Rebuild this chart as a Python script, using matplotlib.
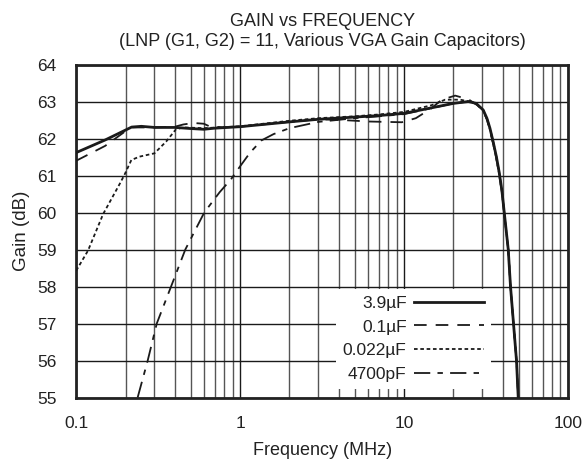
import matplotlib
matplotlib.use("Agg")
import matplotlib.pyplot as plt
from matplotlib.ticker import FixedLocator, NullFormatter

plt.rcParams['font.family'] = ['Liberation Sans', 'DejaVu Sans']

title = "GAIN vs FREQUENCY\n(LNP (G1, G2) = 11, Various VGA Gain Capacitors)"
xlabel = "Frequency (MHz)"
ylabel = "Gain (dB)"
xticks = [0.1, 1, 10, 100]
xticklabels = ["0.1", "1", "10", "100"]
yticks = [55, 56, 57, 58, 59, 60, 61, 62, 63, 64]

labels = ["3.9\u00b5F", "0.1\u00b5F", "0.022\u00b5F", "4700pF"]

f_39u = [0.1, 0.15, 0.218, 0.25, 0.3, 0.4, 0.5, 0.6, 0.7, 1.0, 2.0, 3.0, 5.0, 7.0, 10.0,
         14.7, 20.0, 24.7, 27.5, 30.4, 32.0, 33.4, 35.0, 36.6, 38.0, 39.5, 43.2, 44.6, 48.5, 49.7]
g_39u = [61.62, 61.96, 62.31, 62.33, 62.3, 62.3, 62.27, 62.25, 62.28, 62.32, 62.45, 62.52, 62.58, 62.62, 62.68,
         62.83, 62.95, 63.0, 62.95, 62.77, 62.55, 62.28, 61.9, 61.5, 61.1, 60.6, 59.0, 58.0, 56.0, 55.0]

f_01u = [0.1, 0.15, 0.2, 0.22, 0.3, 0.4, 0.45, 0.52, 0.6, 0.65, 0.8, 1.0, 2.0, 3.0, 4.2, 6.1, 9.7,
         11.8, 14.5, 17.0, 20.5, 24.7, 28.0, 30.4, 32.0, 33.4, 35.0, 36.6, 38.0, 39.5, 43.2, 44.6, 48.5, 49.7]
g_01u = [61.4, 61.8, 62.2, 62.3, 62.3, 62.32, 62.38, 62.42, 62.4, 62.33, 62.3, 62.32, 62.45, 62.52, 62.5, 62.46, 62.44,
         62.55, 62.8, 63.05, 63.16, 63.06, 62.9, 62.75, 62.52, 62.25, 61.85, 61.45, 61.05, 60.55, 59.0, 58.0, 56.0, 55.0]

f_022u = [0.1, 0.118, 0.146, 0.184, 0.197, 0.217, 0.243, 0.3, 0.354, 0.406, 0.45, 0.6, 1.0, 2.0, 3.0, 5.0,
          7.0, 10.0, 14.7, 17.8, 22.0, 25.0, 28.0, 30.4, 32.0, 33.4, 35.0, 36.6, 38.0, 39.5, 43.2, 44.6, 48.5, 49.7]
g_022u = [58.43, 58.97, 59.96, 60.77, 61.02, 61.42, 61.51, 61.6, 61.92, 62.25, 62.3, 62.28, 62.33, 62.48, 62.55, 62.6,
          62.65, 62.72, 62.9, 63.05, 63.05, 63.0, 62.93, 62.75, 62.52, 62.25, 61.85, 61.45, 61.05, 60.55, 59.0, 58.0, 56.0, 55.0]

f_4700p = [0.237, 0.273, 0.31, 0.379, 0.463, 0.604, 0.75, 0.88, 1.0, 1.15, 1.35, 1.6, 2.0, 3.0, 5.0, 7.0, 10.0,
           14.7, 20.0, 24.7, 27.5, 30.4, 32.0, 33.4, 35.0, 36.6, 38.0, 39.5, 43.2, 44.6, 48.5, 49.7]
g_4700p = [55.0, 56.0, 57.0, 58.0, 59.0, 60.0, 60.55, 60.9, 61.25, 61.62, 61.95, 62.12, 62.28, 62.45, 62.55, 62.6, 62.66,
           62.82, 62.95, 63.0, 62.95, 62.77, 62.55, 62.28, 61.9, 61.5, 61.1, 60.6, 59.0, 58.0, 56.0, 55.0]

fig = plt.figure(figsize=(5.84, 4.67), dpi=100)
ax = fig.add_axes([0.1305, 0.1488, 0.8421, 0.7130])

ax.set_xscale('log')
ax.set_xlim(0.1, 100)
ax.set_ylim(55, 64)

ax.plot(f_39u, g_39u, color='#1a1a1a', lw=2.0, ls='-', label=labels[0], zorder=5)
ax.plot(f_01u, g_01u, color='#1a1a1a', lw=1.3, ls=(0, (7, 5)), label=labels[1], zorder=4)
ax.plot(f_022u, g_022u, color='#1a1a1a', lw=1.3, ls=(0, (2, 1.5)), label=labels[2], zorder=4)
ax.plot(f_4700p, g_4700p, color='#1a1a1a', lw=1.3, ls=(0, (9, 4, 3, 4)), label=labels[3], zorder=4)

ax.xaxis.set_major_locator(FixedLocator(xticks))
ax.set_xticklabels(xticklabels)
minors = [m * d for d in (0.1, 1, 10) for m in range(2, 10)]
ax.xaxis.set_minor_locator(FixedLocator(minors))
ax.xaxis.set_minor_formatter(NullFormatter())
ax.set_yticks(yticks)

ax.grid(True, which='major', axis='both', color='#1a1a1a', lw=1.0)
ax.grid(True, which='minor', axis='x', color='#555555', lw=1.0)
ax.set_axisbelow(True)

ax.tick_params(axis='both', which='both', length=0, labelsize=12.5, colors='#222222')
ax.tick_params(axis='x', pad=13)
ax.tick_params(axis='y', pad=14)
for s in ax.spines.values():
    s.set_linewidth(2.0)
    s.set_color('#222222')

ax.set_title(title, fontsize=13, color='#222222', pad=13, linespacing=1.25)
ax.set_xlabel(xlabel, fontsize=13, color='#222222', labelpad=8)
ax.set_ylabel(ylabel, fontsize=13.5, color='#222222', labelpad=5)

leg = ax.legend(loc='lower right', bbox_to_anchor=(0.843, 0.025), markerfirst=False,
                frameon=True, fancybox=False, framealpha=1.0, edgecolor='none', facecolor='white',
                fontsize=12.5, handlelength=4.0, labelspacing=0.5, borderpad=0.4,
                handletextpad=0.45, borderaxespad=0.0)
leg.set_zorder(10)
for t in leg.get_texts():
    t.set_color('#222222')

fig.savefig("out.png", dpi=100)
